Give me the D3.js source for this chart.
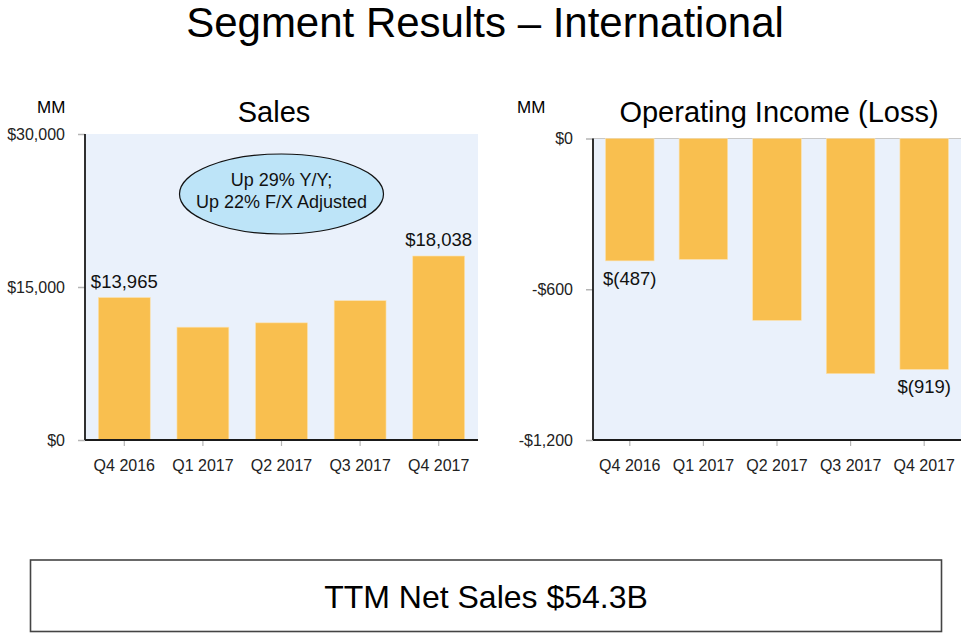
<!DOCTYPE html>
<html>
<head>
<meta charset="utf-8">
<script src="https://cdn.jsdelivr.net/npm/d3@7"></script>
<style>
  html, body { margin: 0; padding: 0; background: #fff; }
  svg { display: block; font-family: "Liberation Sans", Arial, sans-serif; }
</style>
</head>
<body>
<svg id="chart" width="970" height="638"></svg>
<script>
// ---- data ----
const categories = ["Q4 2016", "Q1 2017", "Q2 2017", "Q3 2017", "Q4 2017"];
const salesValues = [13965, 11061, 11485, 13657, 18038];
const salesLabels = ["$13,965", null, null, null, "$18,038"];
const salesTicks = [0, 15000, 30000];
const salesTickLabels = ["$0", "$15,000", "$30,000"];
const opIncomeValues = [-487, -481, -724, -936, -919];
const opIncomeLabels = ["$(487)", null, null, null, "$(919)"];
const opTicks = [0, -600, -1200];
const opTickLabels = ["$0", "-$600", "-$1,200"];
const mainTitle = "Segment Results \u2013 International";
const salesTitle = "Sales";
const opTitle = "Operating Income (Loss)";
const unitLabel = "MM";
const calloutLines = ["Up 29% Y/Y;", "Up 22% F/X Adjusted"];
const footerText = "TTM Net Sales $54.3B";

// ---- style ----
const barColor = "#F9BF4F";
const plotBg = "#EAF1FB";
const calloutFill = "#BDE4F8";
const axisDark = "#1a1a1a";
const tickGray = "#b5b5b5";
const textColor = "#111";

const svg = d3.select("#chart");

// main title
svg.append("text")
  .attr("x", 485).attr("y", 37)
  .attr("text-anchor", "middle")
  .attr("font-size", 42).attr("fill", "#000")
  .text(mainTitle);

function drawPanel(opts) {
  const g = svg.append("g");
  const x = d3.scaleBand().domain(categories).range([opts.x0, opts.x1]).paddingInner(0.34).paddingOuter(0.17);
  const y = d3.scaleLinear().domain(opts.domain).range([opts.yBottom, opts.yTop]);
  const rows = categories.map((c, i) => ({ cat: c, value: opts.values[i], label: opts.labels[i] }));

  // background
  g.append("rect")
    .attr("x", opts.x0).attr("y", opts.yTop)
    .attr("width", opts.x1 - opts.x0).attr("height", opts.yBottom - opts.yTop)
    .attr("fill", plotBg);
  if (opts.topLine) {
    g.append("line")
      .attr("x1", opts.x0).attr("x2", opts.x1)
      .attr("y1", y(0)).attr("y2", y(0))
      .attr("stroke", "#c8c8c8").attr("stroke-width", 1);
  }

  // bars
  g.selectAll("rect.bar").data(rows).join("rect")
    .attr("class", "bar")
    .attr("x", d => x(d.cat))
    .attr("width", x.bandwidth())
    .attr("y", d => Math.min(y(0), y(d.value)))
    .attr("height", d => Math.abs(y(d.value) - y(0)))
    .attr("fill", barColor)
    .attr("stroke", "#FCE2AE").attr("stroke-width", 0.6);

  // value labels
  g.selectAll("text.vlab").data(rows.filter(d => d.label)).join("text")
    .attr("class", "vlab")
    .attr("x", d => x(d.cat) + x.bandwidth() / 2)
    .attr("y", d => d.value >= 0 ? y(d.value) - 10 : y(d.value) + 24)
    .attr("text-anchor", "middle")
    .attr("font-size", 18.5).attr("fill", textColor)
    .text(d => d.label);

  // y axis
  const yAxis = d3.axisLeft(y)
    .tickValues(opts.ticks)
    .tickFormat((d, i) => opts.tickLabels[i])
    .tickSize(7).tickSizeOuter(0).tickPadding(13);
  const ya = g.append("g").attr("transform", `translate(${opts.x0},0)`).call(yAxis);
  ya.select(".domain").remove();
  ya.selectAll(".tick line").attr("stroke", tickGray).attr("stroke-width", 1.5);
  ya.selectAll(".tick text").attr("font-size", 16).attr("fill", "#222")
    .attr("font-family", "\"Liberation Sans\", Arial, sans-serif");

  // x axis
  const xAxis = d3.axisBottom(x).tickSize(6).tickSizeOuter(0).tickPadding(14);
  const xa = g.append("g").attr("transform", `translate(0,${opts.yBottom})`).call(xAxis);
  xa.select(".domain").remove();
  xa.selectAll(".tick line").attr("stroke", tickGray).attr("stroke-width", 1.2);
  xa.selectAll(".tick text").attr("font-size", 16).attr("fill", "#222")
    .attr("font-family", "\"Liberation Sans\", Arial, sans-serif");

  // axis lines
  g.append("line")
    .attr("x1", opts.x0).attr("x2", opts.x0)
    .attr("y1", opts.yTop).attr("y2", opts.yBottom)
    .attr("stroke", axisDark).attr("stroke-width", 1.8);
  g.append("line")
    .attr("x1", opts.x0).attr("x2", opts.x1)
    .attr("y1", opts.yBottom).attr("y2", opts.yBottom)
    .attr("stroke", axisDark).attr("stroke-width", 1.8);

  // titles
  g.append("text")
    .attr("x", opts.titleX).attr("y", 122)
    .attr("text-anchor", "middle")
    .attr("font-size", 29).attr("fill", "#000")
    .text(opts.title);
  g.append("text")
    .attr("x", opts.mmX).attr("y", 113)
    .attr("font-size", 17).attr("fill", "#000")
    .text(unitLabel);
  return { x, y, g };
}

const left = drawPanel({
  x0: 85, x1: 478, yTop: 134, yBottom: 440,
  domain: [0, 30000], values: salesValues, labels: salesLabels,
  ticks: salesTicks, tickLabels: salesTickLabels,
  title: salesTitle, titleX: 274, mmX: 37, topLine: false
});

const right = drawPanel({
  x0: 593, x1: 961, yTop: 138.5, yBottom: 440,
  domain: [-1200, 0], values: opIncomeValues, labels: opIncomeLabels,
  ticks: opTicks, tickLabels: opTickLabels,
  title: opTitle, titleX: 779, mmX: 517, topLine: true
});

// callout ellipse
const cx = left.x(categories[2]) + left.x.bandwidth() / 2;
const cg = svg.append("g");
cg.append("ellipse")
  .attr("cx", cx).attr("cy", 194)
  .attr("rx", 102).attr("ry", 40)
  .attr("fill", calloutFill).attr("stroke", "#111").attr("stroke-width", 1.2);
cg.selectAll("text").data(calloutLines).join("text")
  .attr("x", cx)
  .attr("y", (d, i) => 186 + i * 21.5)
  .attr("text-anchor", "middle")
  .attr("font-size", 18).attr("fill", textColor)
  .text(d => d);

// footer box
svg.append("rect")
  .attr("x", 30.5).attr("y", 560)
  .attr("width", 911).attr("height", 71.5)
  .attr("fill", "#fff").attr("stroke", "#444").attr("stroke-width", 1.6);
svg.append("text")
  .attr("x", 486).attr("y", 608)
  .attr("text-anchor", "middle")
  .attr("font-size", 32).attr("fill", "#000")
  .text(footerText);
</script>
</body>
</html>
